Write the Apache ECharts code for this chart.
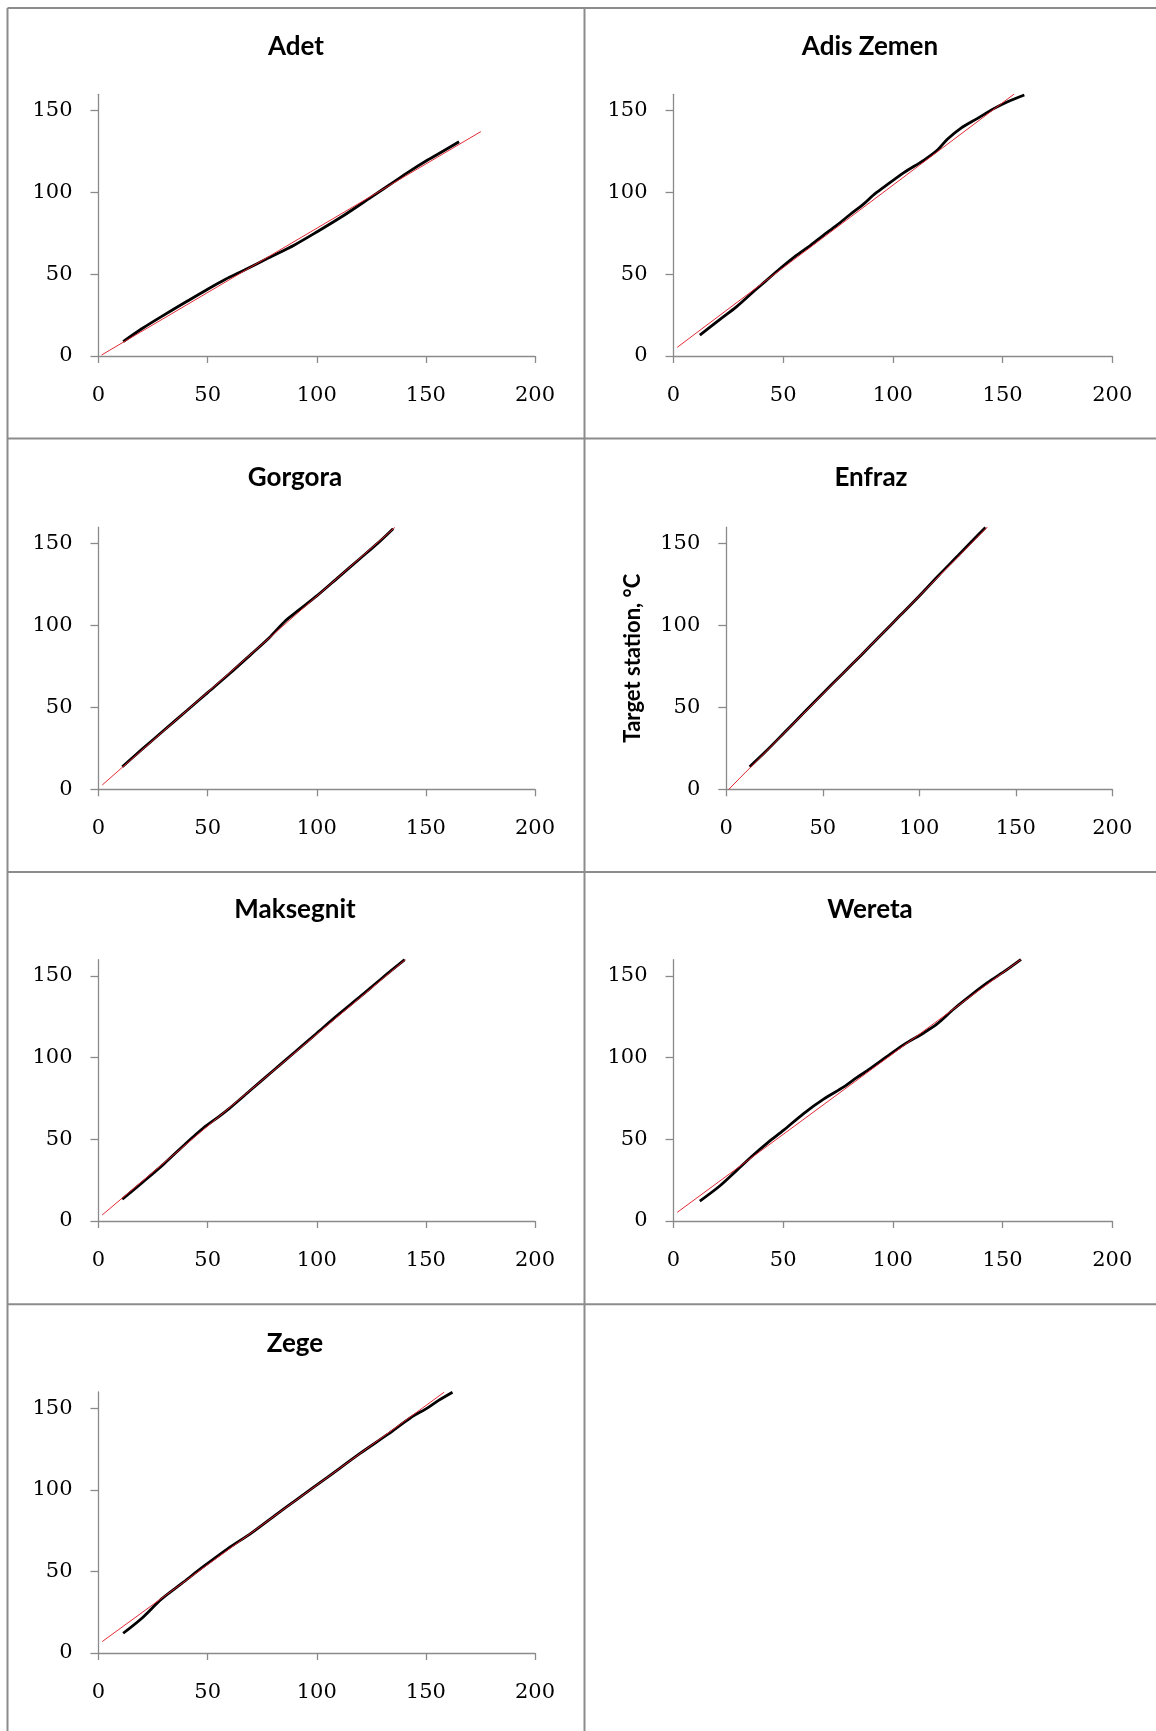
<!DOCTYPE html>
<html>
<head>
<meta charset="utf-8">
<style>
html,body{margin:0;padding:0;background:#ffffff;}
#chart{width:1156px;height:1731px;}
</style>
<script src="https://cdn.jsdelivr.net/npm/echarts@6/dist/echarts.min.js"></script>
</head>
<body>
<div id="chart"></div>
<script>
// ---------------- data ----------------
const stations = ['Adet', 'Adis Zemen', 'Gorgora', 'Enfraz', 'Maksegnit', 'Wereta', 'Zege'];
const xTicks = [0, 50, 100, 150, 200];
const yTicks = [0, 50, 100, 150];
const yAxisTitle = 'Target station, °C';

// observed curves (black): [x, y]
const adetObs = [[11.3,8.8],[20,16.8],[28.8,24.1],[40,33.0],[50.2,41.0],[58,46.8],[66.9,52.6],[78,60.0],[89.8,67.9],[100.2,76.0],[112.7,86.2],[124.8,97.0],[135.5,106.6],[141.6,112.1],[150.8,119.8],[158,125.3],[165.2,131.0]];
const adisZemenObs = [[12.0,12.8],[21.2,22.4],[28.8,30.2],[36.4,39.3],[42,45.8],[48.6,53.5],[55,60.5],[62.3,67.5],[68,73.5],[74.5,80.0],[80.5,86.5],[86.7,93.0],[91,98.3],[95.9,103.2],[105.0,112.1],[114.2,119.8],[120.3,125.9],[124.8,132.5],[130.9,139.2],[138.6,145.3],[146.2,151.4],[152.3,155.5],[159.9,159.6]];
const gorgoraObs = [[10.9,13.8],[20,24.5],[30,36.0],[40,47.5],[50,59.0],[60,70.5],[70,82.5],[78,92.2],[85.8,103.0],[92,109.6],[100,118.0],[110,129.5],[120,141.0],[128,150.2],[135,159.0]];
const enfrazObs = [[12.1,13.8],[20,22.6],[30,34.5],[40,46.5],[50,58.5],[60,70.2],[70,82.0],[80,94.0],[90,106.0],[100,118.0],[110,130.5],[120,142.5],[127,151.0],[134.3,159.8]];
const maksegnitObs = [[10.9,13.3],[20,23.5],[30,35.0],[40,47.5],[47.9,56.8],[55,63.8],[60,69.0],[70,80.5],[80,92.0],[90,103.5],[100,115.0],[110,126.5],[120,137.5],[130,148.8],[140.3,160.0]];
const weretaObs = [[12.0,12.2],[21.2,21.6],[28.8,31.0],[36.4,40.4],[43,48.0],[50.2,55.6],[59.3,65.8],[68.4,74.6],[77.6,82.1],[83.5,87.8],[89.8,93.4],[95.9,99.4],[105.0,108.0],[114.2,115.3],[120.3,120.8],[127.9,130.0],[135.5,138.2],[143.1,145.9],[150.8,152.8],[158.4,160.2]];
const zegeObs = [[11.3,12.1],[20,21.5],[28.8,33.0],[38,42.5],[48.6,53.5],[59.3,64.0],[70,73.5],[82,85.5],[90,93.3],[105,107.8],[120,122.5],[132.5,134.0],[143,144.2],[150.8,150.3],[156,155.0],[162.2,159.9]];

// fitted lines (red): start and end points
const adetFit = [[1.4,0.6],[175.2,137.2]];
const adisZemenFit = [[1.7,5.3],[155.3,160.2]];
const gorgoraFit = [[1.7,2.6],[135.8,159.8]];
const enfrazFit = [[1.3,0.0],[135.3,160.1]];
const maksegnitFit = [[1.7,3.7],[140.7,160.2]];
const weretaFit = [[1.7,5.3],[158.4,160.2]];
const zegeFit = [[1.7,7.0],[158.4,159.9]];

const observed = [adetObs, adisZemenObs, gorgoraObs, enfrazObs, maksegnitObs, weretaObs, zegeObs];
const fitted = [adetFit, adisZemenFit, gorgoraFit, enfrazFit, maksegnitFit, weretaFit, zegeFit];

// ---------------- layout (pixels) ----------------
const layout = [
  {left: 98.5,  top: 94.3,  width: 436.5, height: 261.7, tx: 296, ty: 46.7},
  {left: 673.5, top: 94.3,  width: 438.8, height: 261.7, tx: 870, ty: 46.7},
  {left: 98.5,  top: 527.1, width: 436.5, height: 262.2, tx: 295, ty: 478},
  {left: 726.3, top: 527.1, width: 386.0, height: 262.2, tx: 871, ty: 478},
  {left: 98.5,  top: 959.7, width: 436.5, height: 261.3, tx: 295, ty: 910},
  {left: 673.5, top: 959.7, width: 438.8, height: 261.3, tx: 870, ty: 910},
  {left: 98.5,  top: 1392,  width: 436.5, height: 261.0, tx: 295, ty: 1343.3}
];
const yNamePanel = 3;

const AXIS = '#8a8a8a';
const BORDER = '#8c8c8c';
const tickFont = {fontFamily: '"DejaVu Serif", serif', fontSize: 21, color: '#000'};
const titleFontSize = 26;

const grids = [], xAxes = [], yAxes = [], series = [], titles = [];
layout.forEach((p, i) => {
  grids.push({left: p.left, top: p.top, width: p.width, height: p.height, containLabel: false});
  titles.push({
    text: stations[i], left: p.tx, top: p.ty - titleFontSize / 2, textAlign: 'center', padding: 0,
    textStyle: {fontFamily: 'Lato, "Open Sans", sans-serif', fontWeight: 'bold', fontSize: titleFontSize, color: '#000'}
  });
  xAxes.push({
    type: 'value', gridIndex: i, min: xTicks[0], max: xTicks[xTicks.length - 1], interval: 50,
    axisLine: {show: true, onZero: false, lineStyle: {color: AXIS, width: 1.3}},
    axisTick: {show: true, length: 7, customValues: xTicks, lineStyle: {color: AXIS, width: 1.3}},
    axisLabel: Object.assign({margin: 29, customValues: xTicks}, tickFont),
    splitLine: {show: false}
  });
  const ya = {
    type: 'value', gridIndex: i, min: 0, max: 160, interval: 50,
    axisLine: {show: true, onZero: false, lineStyle: {color: AXIS, width: 1.3}},
    axisTick: {show: true, length: 8, customValues: yTicks, lineStyle: {color: AXIS, width: 1.3}},
    axisLabel: Object.assign({margin: 26, customValues: yTicks}, tickFont),
    splitLine: {show: false}
  };
  if (i === yNamePanel) {
    ya.name = yAxisTitle;
    ya.nameLocation = 'middle';
    ya.nameGap = 82;
    ya.nameTextStyle = {fontFamily: 'Lato, "Open Sans", sans-serif', fontWeight: 'bold', fontSize: 22, color: '#000'};
  }
  yAxes.push(ya);
  series.push({
    type: 'line', name: stations[i] + ' observed', xAxisIndex: i, yAxisIndex: i,
    data: observed[i], symbol: 'none', smooth: 0.3, z: 2,
    lineStyle: {color: '#000', width: 2.8}
  });
  series.push({
    type: 'line', name: stations[i] + ' fit', xAxisIndex: i, yAxisIndex: i,
    data: fitted[i], symbol: 'none', z: 3,
    lineStyle: {color: '#e0202a', width: 1, opacity: 0.95}
  });
});

const border = (x1, y1, x2, y2) => ({type: 'line', silent: true, z: -1,
  shape: {x1, y1, x2, y2}, style: {stroke: BORDER, lineWidth: 2}});

const chart = echarts.init(document.getElementById('chart'), null, {renderer: 'canvas'});
chart.setOption({
  animation: false,
  backgroundColor: '#ffffff',
  title: titles,
  grid: grids,
  xAxis: xAxes,
  yAxis: yAxes,
  series: series,
  graphic: [
    border(7.5, 8, 1156, 8),
    border(7.5, 8, 7.5, 1731),
    border(584.5, 8, 584.5, 1731),
    border(7.5, 438.5, 1156, 438.5),
    border(7.5, 872, 1156, 872),
    border(7.5, 1304.3, 1156, 1304.3)
  ]
});
</script>
</body>
</html>
